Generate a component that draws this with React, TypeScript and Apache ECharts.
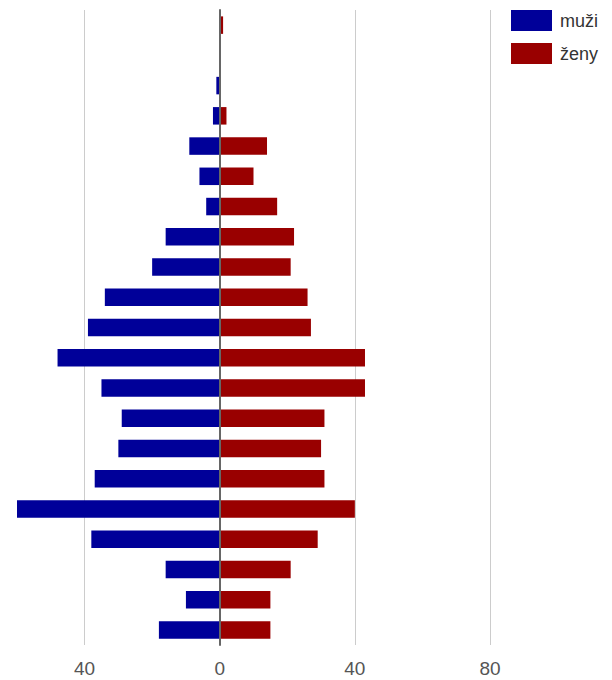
import React, { useEffect, useRef } from "react";
import * as echarts from "echarts";

const categories = [
  "100+", "95-99", "90-94", "85-89", "80-84", "75-79", "70-74",
  "65-69", "60-64", "55-59", "50-54", "45-49", "40-44", "35-39",
  "30-34", "25-29", "20-24", "15-19", "10-14", "5-9", "0-4",
];
const menValues = [0, 0, 1, 2, 9, 6, 4, 16, 20, 34, 39, 48, 35, 29, 30, 37, 60, 38, 16, 10, 18];
const womenValues = [1, 0, 0, 2, 14, 10, 17, 22, 21, 26, 27, 43, 43, 31, 30, 31, 40, 29, 21, 15, 15];
const gridValues = [-40, 40, 80];
const labelValues = [-40, 0, 40, 80];
const seriesNames = ["muži", "ženy"];

const FONT = 'Arial, "Liberation Sans", sans-serif';

export default function App() {
  const ref = useRef<HTMLDivElement>(null);
  useEffect(() => {
    if (!ref.current) return;
    const chart = echarts.init(ref.current, undefined, { renderer: "svg" });
    chart.setOption({
      animation: false,
      color: ["#000099", "#990000"],
      legend: {
        orient: "vertical",
        left: 511,
        top: 10,
        padding: 0,
        itemWidth: 41,
        itemHeight: 21,
        itemGap: 12,
        icon: "rect",
        textStyle: { fontSize: 18, color: "#333", fontFamily: FONT, padding: [0, 0, 0, 3] },
        data: seriesNames,
      },
      grid: { left: 17, right: 122, top: 10, bottom: 35, containLabel: false },
      xAxis: {
        type: "value",
        min: -60,
        max: 80,
        interval: 20,
        axisLine: { show: false },
        axisTick: { show: false },
        splitLine: { show: false },
        axisLabel: {
          fontSize: 19,
          color: "#555",
          fontFamily: FONT,
          margin: 14,
          formatter: (v: number) => (labelValues.includes(v) ? String(Math.abs(v)) : ""),
        },
      },
      yAxis: {
        type: "category",
        data: categories,
        inverse: true,
        axisLabel: { show: false },
        axisTick: { show: false },
        axisLine: { show: true, onZero: true, lineStyle: { color: "#666", width: 2 } },
        z: 10,
      },
      series: [
        {
          name: seriesNames[0],
          type: "bar",
          stack: "total",
          barWidth: 17.5,
          data: menValues.map((v) => -v),
          markLine: {
            silent: true,
            z: 1,
            symbol: ["none", "none"],
            label: { show: false },
            lineStyle: { color: "#cccccc", width: 1, type: "solid" },
            data: gridValues.map((v) => ({ xAxis: v })),
          },
        },
        {
          name: seriesNames[1],
          type: "bar",
          stack: "total",
          barWidth: 17.5,
          data: womenValues,
        },
      ],
    });
    return () => chart.dispose();
  }, []);
  return (
    <div
      ref={ref}
      style={{ position: "fixed", left: 0, top: 0, width: 612, height: 680, background: "#fff" }}
    />
  );
}
